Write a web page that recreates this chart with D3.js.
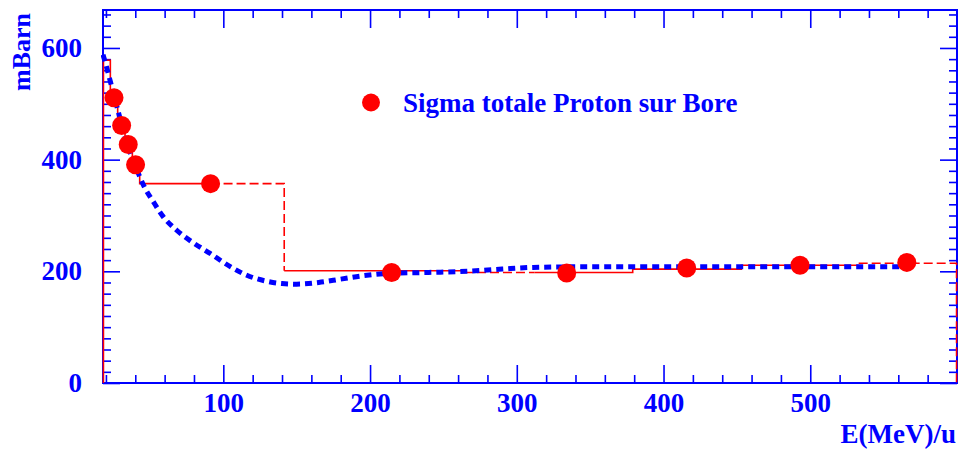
<!DOCTYPE html>
<html>
<head>
<meta charset="utf-8">
<script src="https://cdn.jsdelivr.net/npm/d3@7"></script>
<style>
  html, body { margin: 0; padding: 0; background: #ffffff; }
  svg { display: block; }
  text { font-family: "Liberation Serif", "Times New Roman", serif; font-weight: bold; fill: #0000ff; }
</style>
</head>
<body>
<svg id="chart" width="960" height="455"></svg>
<script>
// ---- data ----
const xDomain = [18, 600];
const yDomain = [0, 668];
const xMajorTicks = [100, 200, 300, 400, 500];
const xMinorTicks = [20, 40, 60, 80, 120, 140, 160, 180, 220, 240, 260, 280, 320, 340, 360, 380, 420, 440, 460, 480, 520, 540, 560, 580];
const yMajorTicks = [0, 200, 400, 600];
const yMinorTicks = [20, 40, 60, 80, 100, 120, 140, 160, 180, 220, 240, 260, 280, 300, 320, 340, 360, 380, 420, 440, 460, 480, 500, 520, 540, 560, 580, 620, 640, 660];

// measured cross sections (red markers)
const pointE     = [25.5, 30.7, 35.2, 40.2, 91.3, 214.7, 334, 415.8, 493, 565.8];
const pointSigma = [511, 461, 427, 391, 357, 198, 197, 206, 211, 216];

// model curve (blue dotted)
const curveE     = [18, 20, 23, 26, 30, 34, 38, 42, 46, 52, 59, 68, 79, 91, 105, 116, 130, 140, 150, 165, 180, 195, 211, 240, 266, 290, 311, 340, 400, 460, 520, 563];
const curveSigma = [588, 570, 540, 510, 470, 432, 402, 376, 352, 326, 298, 274, 252, 232, 208, 193, 182, 178, 177, 180, 186, 192, 196, 198, 200, 204, 207, 208, 208, 208, 208, 208];

// red histogram, solid pieces (E, sigma vertices)
const histSolid = [
  [[18.3, 0], [18.3, 578], [23, 578], [23, 511], [28, 511], [28, 461], [33, 461], [33, 427], [38, 427], [38, 391], [43, 391], [43, 357], [91.3, 357]],
  [[141.5, 201], [264, 201]],
  [[312, 198], [379, 198], [379, 204], [453, 204], [453, 211], [533, 211]]
];
// red histogram, dashed pieces
const histDashed = [
  [[91.3, 357], [141.5, 357], [141.5, 201]],
  [[264, 198], [312, 198]],
  [[533, 214.5], [599.7, 214.5], [599.7, 0]]
];

const legendLabel = "Sigma totale Proton sur Bore";
const xTitle = "E(MeV)/u";
const yTitle = "mBarn";

// ---- drawing ----
const svg = d3.select("#chart");
const plot = { left: 103, right: 957, top: 10, bottom: 383 };
const blue = "#0000ff", red = "#ff0000";

const x = d3.scaleLinear().domain(xDomain).range([plot.left, plot.right]);
const y = d3.scaleLinear().domain(yDomain).range([plot.bottom, plot.top]);

svg.append("defs").append("clipPath").attr("id", "clip")
  .append("rect").attr("x", plot.left - 2).attr("y", plot.top)
  .attr("width", plot.right - plot.left + 4).attr("height", plot.bottom - plot.top);

function styleAxis(g) {
  g.select(".domain").remove();
  g.selectAll(".tick line").attr("stroke", blue).attr("stroke-width", 1.6);
  g.selectAll(".tick text").attr("font-size", 27).attr("fill", blue)
    .attr("font-family", "Liberation Serif, Times New Roman, serif").attr("font-weight", "bold");
}

// bottom axis (major with labels, minor without)
svg.append("g").attr("transform", `translate(0,${plot.bottom})`)
  .call(d3.axisBottom(x).tickValues(xMajorTicks).tickSizeInner(-18).tickSizeOuter(0).tickPadding(10).tickFormat(d3.format("d")))
  .call(styleAxis);
svg.append("g").attr("transform", `translate(0,${plot.bottom})`)
  .call(d3.axisBottom(x).tickValues(xMinorTicks).tickSizeInner(-8).tickSizeOuter(0).tickFormat(""))
  .call(styleAxis);
// top axis
svg.append("g").attr("transform", `translate(0,${plot.top})`)
  .call(d3.axisTop(x).tickValues(xMajorTicks).tickSizeInner(-18).tickSizeOuter(0).tickFormat(""))
  .call(styleAxis);
svg.append("g").attr("transform", `translate(0,${plot.top})`)
  .call(d3.axisTop(x).tickValues(xMinorTicks).tickSizeInner(-8).tickSizeOuter(0).tickFormat(""))
  .call(styleAxis);
// left axis
svg.append("g").attr("transform", `translate(${plot.left},0)`)
  .call(d3.axisLeft(y).tickValues(yMajorTicks).tickSizeInner(-17).tickSizeOuter(0).tickPadding(21).tickFormat(d3.format("d")))
  .call(styleAxis);
svg.append("g").attr("transform", `translate(${plot.left},0)`)
  .call(d3.axisLeft(y).tickValues(yMinorTicks).tickSizeInner(-8).tickSizeOuter(0).tickFormat(""))
  .call(styleAxis);
// right axis
svg.append("g").attr("transform", `translate(${plot.right},0)`)
  .call(d3.axisRight(y).tickValues(yMajorTicks).tickSizeInner(-17).tickSizeOuter(0).tickFormat(""))
  .call(styleAxis);
svg.append("g").attr("transform", `translate(${plot.right},0)`)
  .call(d3.axisRight(y).tickValues(yMinorTicks).tickSizeInner(-8).tickSizeOuter(0).tickFormat(""))
  .call(styleAxis);

// frame
svg.append("rect")
  .attr("x", plot.left).attr("y", plot.top)
  .attr("width", plot.right - plot.left).attr("height", plot.bottom - plot.top)
  .attr("fill", "none").attr("stroke", blue).attr("stroke-width", 2);

const g = svg.append("g").attr("clip-path", "url(#clip)");
const lineXY = d3.line().x(d => x(d[0])).y(d => y(d[1]));

// red histogram (drawn over the frame, like the reference)
g.selectAll("path.hs").data(histSolid).join("path").attr("class", "hs")
  .attr("d", lineXY).attr("fill", "none").attr("stroke", red).attr("stroke-width", 1.6);
g.selectAll("path.hd").data(histDashed).join("path").attr("class", "hd")
  .attr("d", lineXY).attr("fill", "none").attr("stroke", red).attr("stroke-width", 1.6)
  .attr("stroke-dasharray", "9,4");

// blue model curve
const curveData = curveE.map((e, i) => [e, curveSigma[i]]);
g.append("path").datum(curveData)
  .attr("d", d3.line().x(d => x(d[0])).y(d => y(d[1])).curve(d3.curveMonotoneX))
  .attr("fill", "none").attr("stroke", blue).attr("stroke-width", 5)
  .attr("stroke-dasharray", "7,5");

// red markers
const pts = pointE.map((e, i) => [e, pointSigma[i]]);
svg.append("g").selectAll("circle").data(pts).join("circle")
  .attr("cx", d => x(d[0])).attr("cy", d => y(d[1])).attr("r", 9.5).attr("fill", red);

// legend
svg.append("circle").attr("cx", 371).attr("cy", 102.5).attr("r", 9).attr("fill", red);
svg.append("text").attr("x", 403).attr("y", 111.5).attr("font-size", 27).text(legendLabel);

// axis titles
svg.append("text").attr("x", 956).attr("y", 443).attr("text-anchor", "end").attr("font-size", 27).text(xTitle);
svg.append("text").attr("transform", "translate(30,13) rotate(-90)").attr("text-anchor", "end")
  .attr("font-size", 26).text(yTitle);
</script>
</body>
</html>
